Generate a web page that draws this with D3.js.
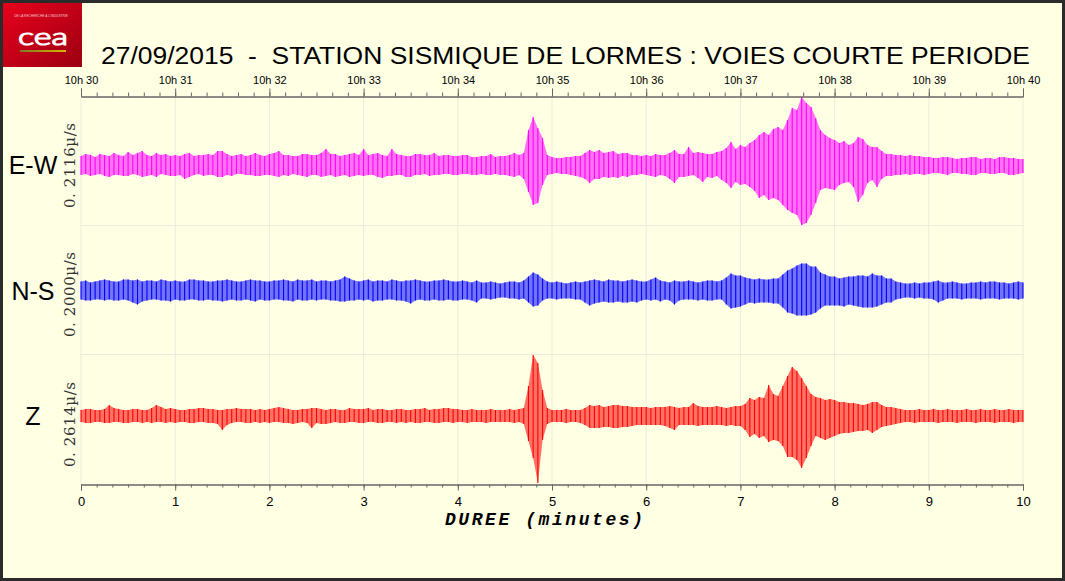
<!DOCTYPE html>
<html>
<head>
<meta charset="utf-8">
<script src="https://cdn.jsdelivr.net/npm/d3@7/dist/d3.min.js"></script>
<style>
  html, body { margin: 0; padding: 0; background: #ffffe4; }
  svg { display: block; }
</style>
</head>
<body>
<div id="chart"></div>
<script>
// time axis : minutes since 10h30
var minutes = [0, 1, 2, 3, 4, 5, 6, 7, 8, 9, 10];
var clockLabels = ['10h 30', '10h 31', '10h 32', '10h 33', '10h 34', '10h 35', '10h 36', '10h 37', '10h 38', '10h 39', '10h 40'];
var channels = ['E-W', 'N-S', 'Z'];
var scaleLabels = ['0. 2116\u00b5/s', '0. 2000\u00b5/s', '0. 2614\u00b5/s'];
var colors = ['#ff00ff', '#0000ff', '#ff0000'];
var step = 0.05; // minutes between envelope samples (3 s)

// peak envelope, one row = one minute
// units : 1/64 of the panel full scale, top = upward peak, bot = downward peak
var ewTop = [
    9, 11, 10, 8, 11, 10, 9, 12, 10, 9, 13, 10, 12, 14, 10, 9, 12, 10, 11, 9,
    10, 9, 11, 12, 9, 10, 10, 11, 10, 14, 14, 11, 9, 10, 11, 9, 10, 12, 10, 9,
    11, 12, 14, 10, 10, 9, 9, 11, 11, 10, 10, 12, 16, 11, 11, 9, 10, 11, 12, 10,
    16, 10, 11, 12, 10, 9, 16, 11, 10, 9, 9, 11, 11, 10, 10, 12, 9, 10, 10, 9,
    9, 10, 10, 8, 8, 9, 9, 11, 8, 9, 9, 10, 12, 10, 12, 35, 48, 37, 27, 10,
    8, 7, 7, 8, 8, 9, 9, 12, 15, 13, 15, 12, 13, 14, 11, 12, 12, 10, 10, 9,
    10, 9, 11, 10, 10, 12, 15, 11, 11, 18, 12, 13, 12, 11, 11, 13, 14, 17, 23, 16,
    20, 18, 22, 25, 30, 33, 30, 36, 38, 35, 45, 57, 55, 68, 62, 58, 47, 35, 30, 27,
    25, 22, 24, 20, 22, 28, 26, 20, 18, 18, 14, 11, 11, 10, 10, 9, 10, 9, 9, 8,
    8, 7, 7, 8, 8, 7, 6, 7, 7, 8, 8, 6, 7, 7, 6, 8, 8, 7, 7, 6,
    6];
var ewBot = [
    10, 9, 11, 10, 9, 11, 12, 10, 10, 11, 11, 9, 10, 12, 11, 10, 12, 9, 10, 11,
    11, 10, 14, 12, 10, 9, 11, 10, 10, 12, 12, 10, 11, 9, 9, 10, 10, 11, 11, 10,
    10, 11, 12, 10, 11, 9, 10, 11, 12, 10, 10, 12, 11, 10, 12, 11, 10, 12, 11, 10,
    11, 10, 10, 12, 13, 11, 11, 10, 10, 12, 12, 10, 10, 9, 11, 10, 10, 9, 9, 10,
    10, 9, 9, 10, 10, 9, 10, 10, 9, 10, 10, 11, 12, 10, 14, 27, 40, 38, 20, 10,
    9, 8, 9, 9, 10, 11, 12, 14, 18, 14, 14, 12, 13, 12, 13, 11, 12, 10, 10, 9,
    10, 11, 12, 10, 11, 14, 18, 12, 12, 11, 10, 13, 17, 12, 13, 11, 15, 18, 23, 17,
    20, 19, 22, 26, 33, 30, 35, 33, 35, 40, 45, 48, 50, 60, 58, 50, 38, 25, 23, 24,
    25, 20, 18, 17, 22, 37, 30, 18, 15, 22, 14, 11, 11, 10, 10, 9, 10, 9, 9, 10,
    9, 8, 8, 9, 10, 8, 8, 9, 9, 10, 10, 8, 8, 9, 9, 8, 8, 10, 10, 9,
    8];
var nsTop = [
    9, 10, 8, 9, 10, 11, 10, 9, 9, 11, 11, 10, 11, 9, 10, 10, 9, 11, 10, 9,
    10, 9, 9, 11, 11, 10, 10, 9, 9, 10, 10, 11, 10, 9, 9, 10, 11, 10, 10, 9,
    9, 10, 10, 11, 10, 9, 11, 10, 10, 11, 9, 10, 10, 9, 10, 11, 14, 12, 10, 9,
    10, 11, 9, 10, 10, 9, 11, 10, 9, 10, 10, 11, 10, 9, 9, 10, 10, 11, 10, 9,
    9, 10, 9, 8, 10, 8, 8, 9, 8, 7, 8, 9, 9, 8, 10, 14, 18, 16, 12, 9,
    8, 9, 8, 7, 8, 9, 8, 9, 10, 11, 10, 9, 11, 10, 10, 9, 10, 11, 10, 9,
    9, 11, 13, 10, 9, 8, 10, 9, 9, 10, 9, 8, 9, 10, 10, 9, 10, 13, 17, 15,
    15, 13, 12, 11, 12, 11, 11, 12, 12, 16, 20, 22, 25, 27, 27, 24, 24, 18, 16, 14,
    14, 12, 13, 14, 14, 15, 15, 14, 17, 15, 15, 12, 12, 9, 8, 7, 7, 8, 7, 8,
    8, 9, 10, 8, 8, 9, 8, 7, 7, 8, 8, 9, 8, 9, 9, 8, 8, 7, 8, 9,
    8];
var nsBot = [
    9, 10, 10, 9, 9, 10, 9, 10, 10, 9, 10, 12, 14, 11, 10, 9, 9, 10, 10, 11,
    9, 10, 10, 9, 9, 10, 10, 9, 10, 10, 11, 10, 9, 10, 10, 9, 10, 11, 9, 10,
    10, 9, 9, 10, 10, 11, 9, 10, 10, 9, 10, 9, 9, 10, 10, 11, 11, 10, 10, 9,
    10, 9, 11, 10, 10, 9, 9, 10, 10, 11, 13, 10, 9, 10, 10, 9, 10, 10, 9, 10,
    10, 9, 9, 10, 12, 8, 8, 9, 8, 7, 7, 8, 8, 9, 8, 12, 16, 15, 10, 8,
    8, 9, 8, 8, 8, 9, 9, 12, 15, 13, 12, 11, 12, 12, 11, 12, 12, 11, 12, 10,
    9, 10, 9, 11, 9, 10, 14, 10, 9, 9, 9, 10, 9, 10, 10, 9, 9, 14, 18, 17,
    16, 14, 12, 13, 12, 12, 12, 13, 13, 17, 22, 23, 25, 25, 25, 24, 22, 18, 15, 15,
    15, 15, 16, 14, 15, 16, 17, 17, 17, 16, 14, 12, 12, 9, 8, 7, 7, 8, 7, 8,
    8, 9, 12, 10, 8, 8, 8, 9, 8, 8, 8, 9, 8, 8, 8, 9, 8, 8, 8, 9,
    8];
var zTop = [
    6, 7, 7, 6, 6, 7, 11, 8, 7, 6, 6, 7, 7, 6, 6, 8, 11, 9, 7, 8,
    7, 6, 6, 7, 7, 8, 8, 7, 7, 6, 6, 7, 7, 8, 7, 7, 7, 6, 7, 6,
    7, 8, 9, 8, 7, 6, 6, 7, 7, 8, 8, 7, 6, 7, 7, 6, 6, 8, 7, 7,
    7, 8, 6, 7, 7, 6, 6, 7, 7, 6, 6, 7, 7, 8, 6, 7, 7, 8, 8, 7,
    7, 6, 6, 7, 6, 6, 6, 7, 6, 6, 6, 7, 6, 7, 8, 30, 61, 53, 26, 8,
    6, 6, 6, 7, 6, 6, 6, 8, 11, 10, 11, 9, 10, 11, 11, 10, 10, 9, 9, 9,
    9, 8, 9, 9, 9, 10, 9, 8, 9, 9, 13, 10, 9, 9, 9, 10, 9, 8, 9, 10,
    10, 12, 18, 16, 19, 18, 31, 22, 20, 30, 40, 49, 45, 38, 30, 22, 19, 18, 16, 17,
    16, 14, 14, 13, 13, 12, 11, 12, 14, 14, 11, 9, 9, 8, 7, 6, 6, 6, 7, 6,
    6, 7, 6, 6, 7, 6, 6, 6, 7, 6, 6, 7, 6, 6, 7, 6, 6, 7, 6, 6,
    6];
var zBot = [
    6, 7, 7, 6, 6, 7, 7, 6, 6, 7, 7, 6, 6, 7, 6, 7, 6, 6, 7, 6,
    7, 6, 6, 7, 7, 6, 6, 7, 7, 8, 14, 9, 7, 6, 6, 7, 7, 6, 7, 6,
    7, 6, 6, 7, 7, 8, 7, 6, 7, 12, 7, 8, 8, 7, 6, 7, 7, 6, 6, 7,
    7, 6, 6, 7, 7, 6, 6, 7, 6, 7, 6, 7, 7, 6, 6, 7, 7, 6, 6, 7,
    6, 6, 7, 6, 6, 6, 7, 6, 6, 6, 6, 6, 7, 6, 8, 25, 42, 67, 24, 8,
    6, 6, 6, 7, 6, 6, 7, 9, 12, 12, 12, 11, 11, 12, 12, 11, 11, 10, 9, 9,
    9, 9, 9, 9, 10, 12, 14, 9, 9, 9, 9, 10, 9, 9, 9, 9, 9, 10, 9, 10,
    10, 14, 21, 18, 22, 20, 26, 24, 25, 30, 41, 41, 44, 52, 42, 30, 20, 22, 24, 22,
    20, 18, 17, 17, 16, 15, 15, 14, 17, 14, 11, 10, 9, 8, 7, 6, 6, 7, 6, 6,
    6, 6, 7, 6, 6, 6, 7, 6, 6, 6, 7, 6, 6, 6, 7, 6, 6, 6, 7, 6,
    6];

var tops = [ewTop, nsTop, zTop];
var bots = [ewBot, nsBot, zBot];

var width = 1065, height = 581;
var svg = d3.select('#chart').append('svg')
    .attr('width', width)
    .attr('height', height);

var defs = svg.append('defs');
var grad = defs.append('linearGradient').attr('id', 'ceaRed')
    .attr('x1', '0').attr('y1', '0').attr('x2', '1').attr('y2', '1');
grad.append('stop').attr('offset', '0%').attr('stop-color', '#e8001c');
grad.append('stop').attr('offset', '100%').attr('stop-color', '#9c0012');
var gradLine = defs.append('linearGradient').attr('id', 'ceaLine');
gradLine.append('stop').attr('offset', '0%').attr('stop-color', '#7d7a2a');
gradLine.append('stop').attr('offset', '100%').attr('stop-color', '#d2b800');

svg.append('rect')
    .attr('width', width).attr('height', height)
    .attr('fill', '#ffffe4');

var x = d3.scaleLinear().domain([0, 10]).range([81, 1023]);
var top0 = 97, bottom0 = 484;
var center = d3.scalePoint().domain(channels).range([165, 416]);

// grid
var grid = svg.append('g').attr('class', 'grid');
grid.selectAll('line.v').data(minutes).enter().append('line')
    .attr('x1', function (d) { return x(d); })
    .attr('x2', function (d) { return x(d); })
    .attr('y1', top0).attr('y2', bottom0)
    .attr('stroke', '#ebebdc').attr('stroke-width', 1);
grid.selectAll('line.h').data([225, 354]).enter().append('line')
    .attr('x1', x(0)).attr('x2', x(10))
    .attr('y1', function (d) { return d + 0.5; })
    .attr('y2', function (d) { return d + 0.5; })
    .attr('stroke', '#ebebdc').attr('stroke-width', 1);

// traces
channels.forEach(function (ch, k) {
    var c = center(ch);
    var y = d3.scaleLinear().domain([-64, 64]).range([c + 64, c - 64]);
    var topv = tops[k], botv = bots[k];
    var idx = d3.range(topv.length);
    var g = svg.append('g').attr('class', 'trace');

    var area = d3.area()
        .x(function (i) { return x(i * step); })
        .y0(function (i) { return y(-botv[i]); })
        .y1(function (i) { return y(topv[i]); });

    g.append('path')
        .attr('d', area(idx))
        .attr('fill', colors[k])
        .attr('fill-opacity', 0.55);

    // one peak-to-peak stroke per sample
    g.selectAll('line').data(idx).enter().append('line')
        .attr('x1', function (i) { return x(i * step); })
        .attr('x2', function (i) { return x(i * step); })
        .attr('y1', function (i) { return y(topv[i]); })
        .attr('y2', function (i) { return y(-botv[i]); })
        .attr('stroke', colors[k])
        .attr('stroke-width', 1.1);

    svg.append('text')
        .attr('x', 33).attr('y', c + 9)
        .attr('text-anchor', 'middle')
        .attr('font-family', 'Liberation Sans, Arial, sans-serif')
        .attr('font-size', 25)
        .attr('fill', '#000')
        .text(ch);

    svg.append('text')
        .attr('transform', 'translate(75,' + [208, 337, 467][k] + ') rotate(-90)')
        .attr('font-family', 'DejaVu Serif, Liberation Serif, serif')
        .attr('font-size', 15)
        .attr('fill', '#333')
        .attr('textLength', 85)
        .attr('lengthAdjust', 'spacing')
        .text(scaleLabels[k]);
});

// axes
var minor = d3.range(0, 61).map(function (d) { return d / 6; });

var topMinor = d3.axisTop(x).tickValues(minor).tickSize(4).tickFormat('');
var topMajor = d3.axisTop(x).tickValues(minutes).tickSize(8)
    .tickFormat(function (d, i) { return clockLabels[i]; });
var botMinor = d3.axisBottom(x).tickValues(minor).tickSize(3).tickFormat('');
var botMajor = d3.axisBottom(x).tickValues(minutes).tickSize(6).tickFormat(d3.format('d'));

svg.append('g').attr('transform', 'translate(0,96.5)').call(topMinor);
var gt = svg.append('g').attr('transform', 'translate(0,96.5)').call(topMajor);
svg.append('g').attr('transform', 'translate(0,484.5)').call(botMinor);
var gb = svg.append('g').attr('transform', 'translate(0,484.5)').call(botMajor);

svg.selectAll('.domain').attr('stroke', '#666');
svg.selectAll('.tick line').attr('stroke', '#666');
gt.selectAll('text')
    .attr('font-family', 'Liberation Sans, Arial, sans-serif')
    .attr('font-size', 11).attr('fill', '#000')
    .attr('dy', '-0.1em');
gb.selectAll('text')
    .attr('font-family', 'Liberation Sans, Arial, sans-serif')
    .attr('font-size', 13).attr('fill', '#000')
    .attr('dy', '0.95em');

svg.append('text')
    .attr('x', 544).attr('y', 525)
    .attr('text-anchor', 'middle')
    .attr('font-family', 'Liberation Mono, Courier New, monospace')
    .attr('font-weight', 'bold').attr('font-style', 'italic')
    .attr('font-size', 18)
    .attr('textLength', 198)
    .attr('lengthAdjust', 'spacing')
    .text('DUREE (minutes)');

// title
svg.append('text')
    .attr('x', 101).attr('y', 64)
    .attr('font-family', 'Liberation Sans, Arial, sans-serif')
    .attr('font-size', 23)
    .attr('textLength', 929)
    .attr('lengthAdjust', 'spacingAndGlyphs')
    .style('white-space', 'pre')
    .text('27/09/2015  -  STATION SISMIQUE DE LORMES : VOIES COURTE PERIODE');

// logo
var logo = svg.append('g');
logo.append('rect').attr('x', 3).attr('y', 3).attr('width', 79).attr('height', 64)
    .attr('fill', 'url(#ceaRed)');
logo.append('text')
    .attr('x', 41).attr('y', 17)
    .attr('text-anchor', 'middle')
    .attr('font-family', 'Liberation Sans, Arial, sans-serif')
    .attr('font-size', 3.2).attr('fill', '#f4d0d0')
    .text("DE LA RECHERCHE \u00c0 L'INDUSTRIE");
logo.append('text')
    .attr('x', 18).attr('y', 45)
    .attr('font-family', 'Lato, Open Sans, sans-serif')
    .attr('font-weight', 300)
    .attr('font-size', 24).attr('fill', 'none')
    .attr('stroke', '#fff').attr('stroke-width', 1.2)
    .attr('textLength', 50)
    .attr('lengthAdjust', 'spacingAndGlyphs')
    .text('cea');
logo.append('rect').attr('x', 20).attr('y', 50).attr('width', 46).attr('height', 2)
    .attr('fill', 'url(#ceaLine)');

// frame
svg.append('rect')
    .attr('x', 1.5).attr('y', 1.5)
    .attr('width', width - 3).attr('height', height - 3)
    .attr('fill', 'none')
    .attr('stroke', '#2b2b2b').attr('stroke-width', 3);
</script>
</body>
</html>
